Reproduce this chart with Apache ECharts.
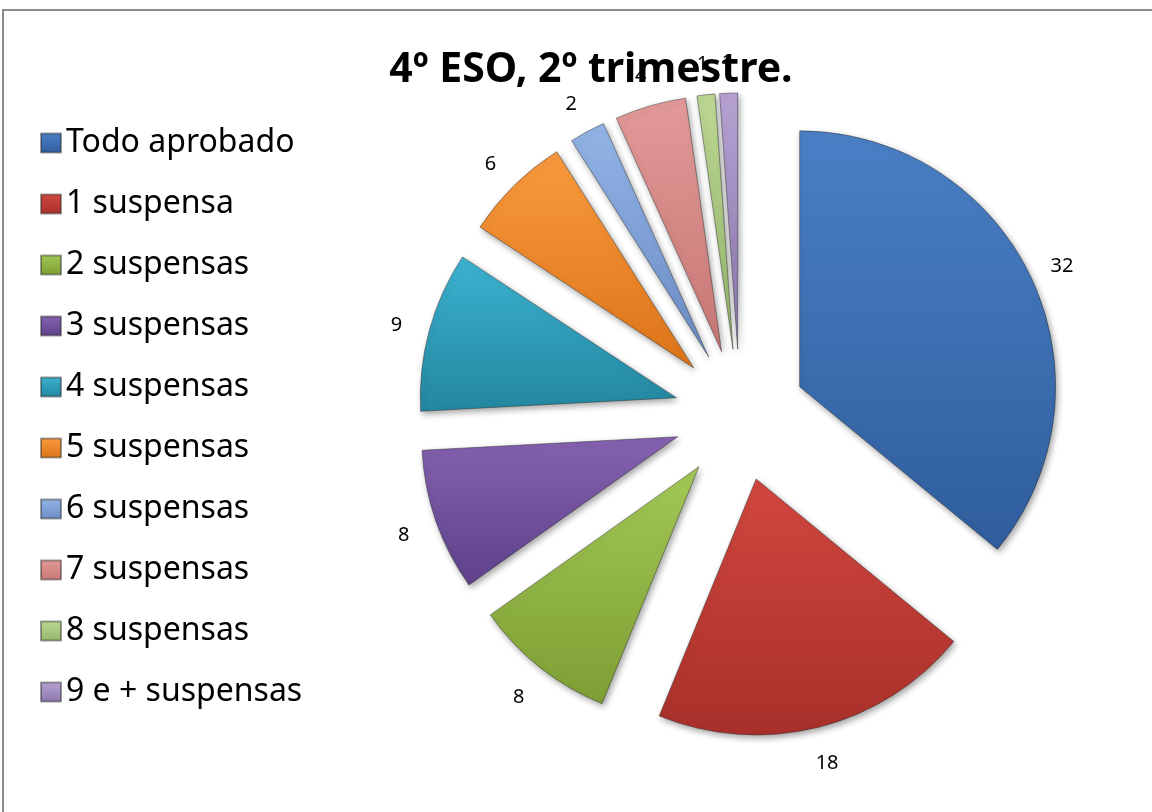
<!DOCTYPE html>
<html>
<head>
<meta charset="utf-8">
<script src="https://cdn.jsdelivr.net/npm/echarts@6/dist/echarts.min.js"></script>
<style>
html,body{margin:0;padding:0;background:#fff;}
#chart{width:1152px;height:812px;}
</style>
</head>
<body>
<div id="chart"></div>
<script>
const titleText = '4º ESO, 2º trimestre.';
const categories = ['Todo aprobado','1 suspensa','2 suspensas','3 suspensas','4 suspensas','5 suspensas','6 suspensas','7 suspensas','8 suspensas','9 e + suspensas'];
const values = [32, 18, 8, 8, 9, 6, 2, 4, 1, 1];

const palette = [
  ['#4a80c6','#2f5d9c'],
  ['#d2473f','#a8302a'],
  ['#a3c957','#7d9e33'],
  ['#8562b0','#5e418a'],
  ['#3bb3d1','#23869f'],
  ['#f99a3e','#dd7418'],
  ['#92b4e6','#6b8cc6'],
  ['#e29a98','#c77775'],
  ['#bcd894','#94b56c'],
  ['#b7a2d4','#8b77aa']
];

function grad(c){
  return new echarts.graphic.LinearGradient(0,0,0,1,[
    {offset:0,color:c[0]},{offset:1,color:c[1]}
  ]);
}

const chart = echarts.init(document.getElementById('chart'), null, {renderer:'canvas'});
const data = categories.map((n,i)=>({
  name:n, value:values[i], selected:true,
  itemStyle:{color:grad(palette[i])}
}));

chart.setOption({
  backgroundColor:'#ffffff',
  animation:false,
  title:{
    text:titleText,
    left:586, top:45, textAlign:'center',
    textStyle:{fontFamily:'Noto Sans', fontWeight:'bold', fontSize:41, color:'#000'}
  },
  legend:{
    orient:'vertical',
    left:35, top:122,
    icon:'rect',
    itemWidth:20, itemHeight:19,
    itemGap:29,
    selectedMode:false,
    textStyle:{fontFamily:'Noto Sans', fontSize:32, lineHeight:32, color:'#000'},
    data:categories
  },
  graphic:[
    {type:'polyline', shape:{points:[[3,820],[3,10],[1160,10]]},
     style:{stroke:'#8a8a8a', lineWidth:2, fill:null}, silent:true}
  ],
  series:[{
    type:'pie',
    center:[740,415],
    radius:256,
    startAngle:90,
    clockwise:true,
    selectedMode:'multiple',
    selectedOffset:66,
    avoidLabelOverlap:false,
    animation:false,
    emphasis:{disabled:true},
    select:{itemStyle:{borderColor:'rgba(40,40,40,0.45)', borderWidth:1}},
    itemStyle:{
      borderColor:'rgba(40,40,40,0.45)', borderWidth:1,
      shadowBlur:6, shadowColor:'rgba(0,0,0,0.35)', shadowOffsetX:2, shadowOffsetY:3
    },
    label:{
      show:true, position:'outside',
      formatter:'{c}',
      distanceToLabelLine:0,
      fontFamily:'Noto Sans', fontSize:20, color:'#000'
    },
    labelLine:{show:false, length:34, length2:0},
    labelLayout:function(){ return {align:'center', dy:3}; },
    data:data
  }]
});
</script>
</body>
</html>
